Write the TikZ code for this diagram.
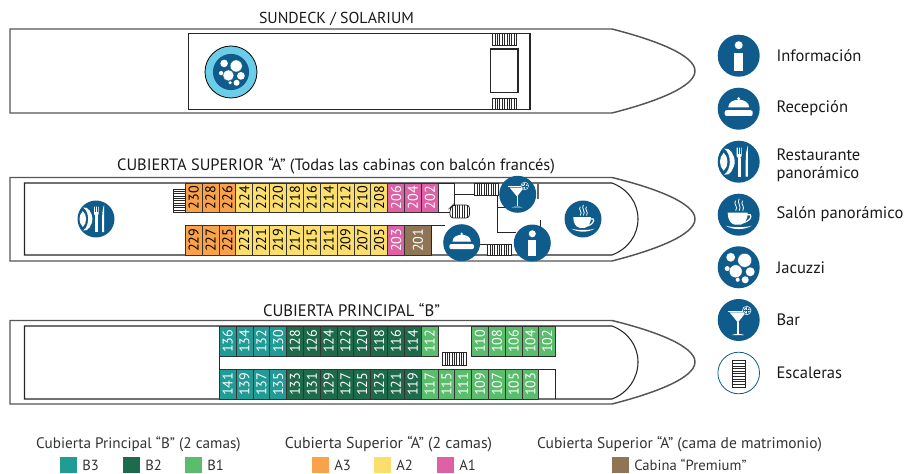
\documentclass[tikz,border=0pt]{standalone}
\usepackage{fontspec}
\setmainfont{PT Sans}
\definecolor{iconblue}{HTML}{0F5C8C}
\definecolor{lightblue}{HTML}{6BCDE8}
\definecolor{bthree}{HTML}{219B96}
\definecolor{btwo}{HTML}{1E6B4B}
\definecolor{bone}{HTML}{5ABD6C}
\definecolor{athree}{HTML}{F9A24A}
\definecolor{atwo}{HTML}{FBDE6B}
\definecolor{aone}{HTML}{DC62A5}
\definecolor{prem}{HTML}{8F7556}
\definecolor{hullgray}{HTML}{555555}
\newcommand{\cabin}[7]{% x0,x1,y0,y1,fill,textcolor,label
  \path[cabinbox,fill=#5] ({#1},#3) rectangle ({#2},#4);
  \node[rotate=90,text=#6,inner sep=0pt,font=\fontsize{10.6pt}{12pt}\selectfont] (t#7) at ({((#1)+(#2))/2},{(#3+#4)/2}) {#7};
}
\newcommand{\vstairs}[4]{%
  \draw[stairline,fill=white] (#1,#2) rectangle (#3,#4);
  \foreach \sx in {1,...,9} \draw[stairfine] ({#1+(#3-#1)*\sx/10},#2) -- ({#1+(#3-#1)*\sx/10},#4);
}
\tikzset{
  hull/.style={draw=hullgray,line width=1.1pt,fill=white},
  deck/.style={draw=black!85,line width=0.8pt},
  cabinbox/.style={draw=black!80,line width=0.6pt},
  stairline/.style={draw=black!85,line width=0.6pt},
  stairfine/.style={draw=black!85,line width=0.45pt},
  wall/.style={draw=black!85,line width=0.7pt},
  decktitle/.style={inner sep=0pt,text=black!90},
  sidelabel/.style={anchor=west,inner sep=0pt,font=\fontsize{12.4pt}{13.5pt}\selectfont,text=black!90,align=left},
  legendtitle/.style={inner sep=0pt,text=black!80},
  legendlabel/.style={anchor=west,inner sep=0pt,font=\fontsize{11pt}{12pt}\selectfont,text=black!80},
  swatch/.style={minimum width=12.4pt,minimum height=12pt,inner sep=0pt,outer sep=0pt},
  infoicon/.pic={\fill[iconblue] (0,0) circle (21);
    \fill[white] (0,-10.5) circle (4);
    \fill[white] (-4.4,-3) rectangle (4.4,15);},
  bellicon/.pic={\fill[iconblue] (0,0) circle (21);
    \fill[white] (-10.5,-1.2) .. controls (-10.5,-6.5) and (-5,-9) .. (0,-9) .. controls (5,-9) and (10.5,-6.5) .. (10.5,-1.2) -- cycle;
    \fill[white] (0,-10) circle (1.6);
    \fill[white,rounded corners=1.5] (-14,1.5) rectangle (14,7.3);},
  resticon/.pic={\fill[iconblue] (0,0) circle (21);
    \fill[white] (-14.5,-13) .. controls (-7,-8) and (-7,8) .. (-14.5,13) .. controls (-9,15) and (-4,6) .. (-4,0) .. controls (-4,-6) and (-9,-15) .. (-14.5,-13) -- cycle;
    \fill[white] (-15,-9) .. controls (-20,-4) and (-20,4) .. (-15,9) .. controls (-10,5) and (-10,-5) .. (-15,-9) -- cycle;
    \fill[white] (-1.2,-4) rectangle (2,15);
    \fill[white] (-2.2,-14) -- (-2.2,-6) .. controls (-2.2,-3) and (3,-3) .. (3,-6) -- (3,-14) -- cycle;
    \foreach \fx in {-0.7,1.5} \draw[iconblue,line width=0.3pt] (\fx,-15) -- (\fx,-8);
    \fill[white] (7,15) -- (9.2,15) -- (9.2,-16) .. controls (7.5,-12) and (7,-6) .. (7,0) -- cycle;},
  coffeeicon/.pic={\fill[iconblue] (0,0) circle (21);
    \fill[white] (-11,-2) -- (9,-2) .. controls (9,5) and (6,9) .. (2,10) -- (-4,10) .. controls (-8,9) and (-11,5) .. (-11,-2) -- cycle;
    \draw[white,line width=0.9pt] (8.5,0) .. controls (14,-2) and (14,5) .. (5,8);
    \fill[white] (-13,11) .. controls (-6,15.5) and (6,15.5) .. (13,11) .. controls (8,13) and (-8,13) .. (-13,11) -- cycle;
    \draw[white,line width=0.6pt] (-3,-14) .. controls (-6,-11) and (0,-8) .. (-3,-4);
    \draw[white,line width=0.6pt] (0.5,-16) .. controls (-2.5,-12) and (3.5,-9) .. (0.5,-4);
    \draw[white,line width=0.6pt] (4,-14) .. controls (1,-11) and (7,-8) .. (4,-4);},
  jacuzziicon/.pic={\fill[iconblue] (0,0) circle (21);
    \fill[white] (-8,-10) circle (4.4) (6,-7) circle (7) (-3,4) circle (6.5) (11.5,4.5) circle (4.5)
      (-11.5,1.3) circle (2.5) (6.5,12.5) circle (3.5) (-1,12.5) circle (2);
    \draw[iconblue,line width=0.3pt] (6,-7) circle (7) (-3,4) circle (6.5);},
  baricon/.pic={\fill[iconblue] (0,0) circle (21);
    \draw[white,line width=0.6pt] (-11,-9) -- (10,-9);
    \fill[white] (-9,-7.5) -- (7,-7.5) -- (-0.8,2.5) -- cycle;
    \fill[white] (-1.3,2) rectangle (-0.2,13.5);
    \fill[white] (-7,15) .. controls (-3,13.5) and (2,13.5) .. (5.5,15) -- cycle;
    \fill[white] (8,-9.5) circle (4.6);
    \draw[iconblue,line width=0.35pt] (8,-9.5) circle (3.6);
    \foreach \ca in {0,45,90,135} \draw[iconblue,line width=0.3pt] (8,-9.5) ++(\ca:3.6) -- ++(\ca+180:7.2);},
}
\begin{document}
\begin{tikzpicture}[x=0.75pt,y=-0.75pt]
\useasboundingbox (0,0) rectangle (904,474);
% ===== Sundeck =====
\node[decktitle,font=\fontsize{11.9pt}{12pt}\selectfont] (title1) at (336.5,18.5) {SUNDECK / SOLARIUM};
\draw[hull] (10,29) -- (612,29) .. controls (655,40) and (695,55) .. (695,71) .. controls (695,87) and (655,102) .. (612,113) -- (10,113) -- cycle;
\draw[deck] (188.5,33.5) rectangle (530,109.5);
\vstairs{492.5}{33.5}{516.5}{45}
\vstairs{492.5}{98}{516.5}{109.5}
\draw[deck] (490.5,49) rectangle (518,92.5);
\draw[black,line width=0.6pt,fill=lightblue] (231,72) circle (26);
\pic[scale=0.86] at (231,72) {jacuzziicon};
% ===== Superior =====
\node[decktitle,font=\fontsize{12.3pt}{12pt}\selectfont] (title2) at (336,166) {CUBIERTA SUPERIOR “A” (Todas las cabinas con balcón francés)};
\draw[hull] (10,177.5) -- (612,177.5) .. controls (655,188) and (695,203) .. (695,219) .. controls (695,235) and (655,250) .. (612,261) -- (10,261) -- cycle;
\draw[deck] (612,183) -- (24.5,183) -- (24.5,255) -- (612,255) .. controls (628,249) and (638,235) .. (638,219) .. controls (638,203) and (628,189) .. (612,183);
\foreach \n/\lab/\col/\txt in {0/230/athree/black,1/228/athree/black,2/226/athree/black,3/224/atwo/black,4/222/atwo/black,5/220/atwo/black,6/218/atwo/black,7/216/atwo/black,8/214/atwo/black,9/212/atwo/black,10/210/atwo/black,11/208/atwo/black,12/206/aone/white,13/204/aone/white,14/202/aone/white}{
  \cabin{185.2+16.87*\n}{185.2+16.87*(\n+1)}{183}{212.5}{\col}{\txt}{\lab}
}
\foreach \n/\lab/\col/\txt in {0/229/athree/black,1/227/athree/black,2/225/athree/black,3/223/atwo/black,4/221/atwo/black,5/219/atwo/black,6/217/atwo/black,7/215/atwo/black,8/211/atwo/black,9/209/atwo/black,10/207/atwo/black,11/205/atwo/black,12/203/aone/white}{
  \cabin{185.2+16.87*\n}{185.2+16.87*(\n+1)}{225.5}{255}{\col}{\txt}{\lab}
}
\cabin{404.5}{431.5}{225.5}{255}{prem}{white}{201}
\draw[wall] (431.5,225.5) -- (445,225.5);
\draw[wall] (438,183) -- (454.7,183) (454.7,183) -- (454.7,205);
\draw[wall] (438,212.5) -- (450,212.5);
\draw[wall] (431.5,225.5) -- (431.5,255);
\draw[wall] (454.7,194.7) -- (474,194.7);
\draw[wall] (497.7,183) -- (497.7,232) -- (516,232);
\draw[wall] (497.7,207) -- (512,207);
\draw[draw=black!60,line width=1pt] (538,183) -- (538,199);
\draw[wall] (540.5,220) -- (540.5,228);
\draw[wall] (478,244.5) -- (487.5,244.5);
% stairs
\draw[stairline,fill=white] (173.5,189) rectangle (185.2,212.5);
\foreach \sy in {1,...,9} \draw[stairfine] (173.5,{189+2.35*\sy}) -- (185.2,{189+2.35*\sy});
\vstairs{474.5}{183}{498}{195}
\draw[stairline,fill=white,rounded corners=2.5] (450,218) -- (450,208) -- (453,205) -- (469.5,205) -- (469.5,218) -- cycle;
\foreach \sx in {1,...,7} \draw[stairfine] ({450+2.44*\sx},205) -- ({450+2.44*\sx},218);
\vstairs{487.5}{244.5}{511}{255}
% icons
\pic[scale=0.88] at (96,219) {resticon};
\pic[scale=0.88] at (517.7,194.3) {baricon};
\pic[scale=0.88] at (583,219) {coffeeicon};
\pic[scale=0.88] at (461.7,242.7) {bellicon};
\pic[scale=0.88] at (532.3,243) {infoicon};
% ===== Principal =====
\node[decktitle,font=\fontsize{12.5pt}{12pt}\selectfont] (title3) at (351.5,310.5) {CUBIERTA PRINCIPAL “B”};
\draw[hull] (10,320.5) -- (612,320.5) .. controls (655,331) and (695,346) .. (695,362) .. controls (695,378) and (655,393) .. (612,404) -- (10,404) -- cycle;
\draw[deck] (612,326) -- (24.5,326) -- (24.5,399) -- (612,399) .. controls (628,393) and (638,378) .. (638,362) .. controls (638,346) and (628,332) .. (612,326);
\foreach \n/\lab/\col in {0/136/bthree,1/134/bthree,2/132/bthree,3/130/bthree,4/128/btwo,5/126/btwo,6/124/btwo,7/122/btwo,8/120/btwo,9/118/btwo,10/116/btwo,11/114/btwo,12/112/bone,15/110/bone,16/108/bone,17/106/bone,18/104/bone,19/102/bone}{
  \cabin{219.3+16.82*\n}{219.3+16.82*(\n+1)}{326}{356.3}{\col}{white}{\lab}
}
\foreach \n/\lab/\col in {0/141/bthree,1/139/bthree,2/137/bthree,3/135/bthree,4/133/btwo,5/131/btwo,6/129/btwo,7/127/btwo,8/125/btwo,9/123/btwo,10/121/btwo,11/119/btwo,12/117/bone,13/115/bone,14/111/bone,15/109/bone,16/107/bone,17/105/bone,18/103/bone}{
  \cabin{219.3+16.82*\n}{219.3+16.82*(\n+1)}{369.5}{399}{\col}{white}{\lab}
}
\draw[wall] (538.9,369.5) -- (555.7,369.5) -- (555.7,399);
\draw[wall] (219.3,356.3) -- (219.3,369.5);
\draw[wall] (471.5,356.3) -- (555.7,356.3);
\vstairs{442.5}{352.7}{466}{365}
% ===== Side legend =====
\pic at (738.7,55.7) {infoicon};
\node[sidelabel] (l1) at (776.3,55.7) {Información};
\pic at (738.7,108.7) {bellicon};
\node[sidelabel] (l2) at (776.3,108.7) {Recepción};
\pic at (738.7,161.7) {resticon};
\node[sidelabel] (l3) at (776.3,165) {Restaurante\\panorámico};
\pic at (738.7,214.7) {coffeeicon};
\node[sidelabel] (l4) at (776.3,214.7) {Salón panorámico};
\pic at (738.7,267.3) {jacuzziicon};
\node[sidelabel] (l5) at (776.3,267.3) {Jacuzzi};
\pic at (738.7,320) {baricon};
\node[sidelabel] (l6) at (776.3,320) {Bar};
\draw[iconblue,line width=0.6pt] (738.7,373) circle (20.8);
\draw[black!85,line width=0.6pt,fill=white] (732,360.5) rectangle (745.5,387);
\foreach \sy in {1,...,9} \draw[stairfine] (732,{360.5+2.65*\sy}) -- (745.5,{360.5+2.65*\sy});
\node[sidelabel] (l7) at (776.3,373) {Escaleras};
% ===== Bottom legend =====
\node[legendtitle,font=\fontsize{11.4pt}{12pt}\selectfont] (g1) at (138.5,444) {Cubierta Principal “B” (2 camas)};
\node[legendtitle,font=\fontsize{11.85pt}{12pt}\selectfont] (g2) at (388.5,444) {Cubierta Superior “A” (2 camas)};
\node[legendtitle,font=\fontsize{11.6pt}{12pt}\selectfont] (g3) at (679.5,444) {Cubierta Superior “A” (cama de matrimonio)};
\foreach \sx/\col/\lab in {60/bthree/B3,123/btwo/B2,185/bone/B1,312/athree/A3,374/atwo/A2,437/aone/A1,612/prem/{Cabina “Premium”}}{
  \node[swatch,fill=\col,anchor=west] (s\sx) at (\sx,465) {};
  \node[legendlabel] (n\sx) at (\sx+22,465) {\lab};
}
\end{tikzpicture}
\end{document}
